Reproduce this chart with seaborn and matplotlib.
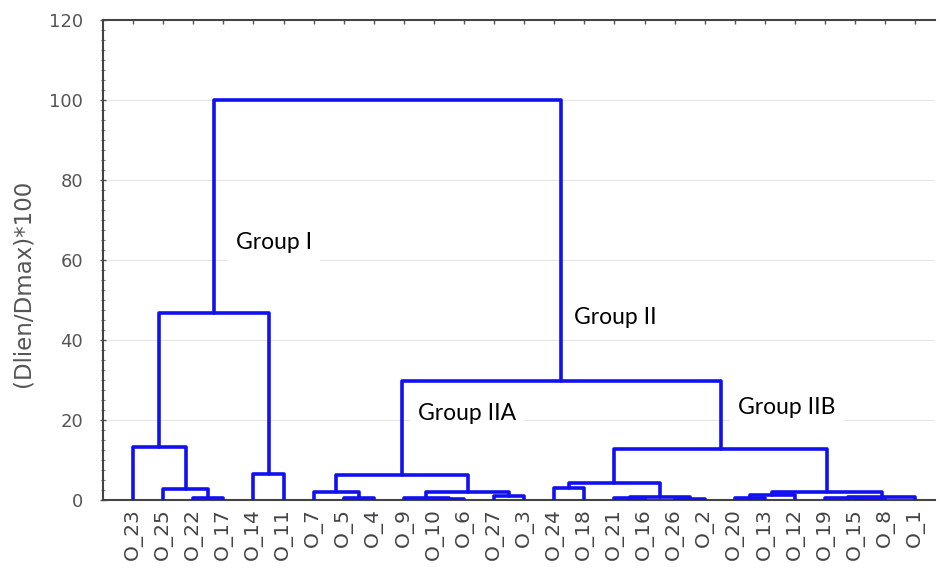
import numpy as np
import pandas as pd
import matplotlib
matplotlib.use("Agg")
import matplotlib.pyplot as plt
import seaborn as sns

# Leaf order along the x axis
leaf_labels = ["O_23", "O_25", "O_22", "O_17", "O_14", "O_11", "O_7", "O_5", "O_4",
               "O_9", "O_10", "O_6", "O_27", "O_3", "O_24", "O_18", "O_21", "O_16",
               "O_26", "O_2", "O_20", "O_13", "O_12", "O_19", "O_15", "O_8", "O_1"]

# Agglomeration steps: "#k" refers to the cluster formed at step k
link_left = ["O_22", "O_25", "O_23", "O_14", "#2", "O_5", "O_7", "O_10", "O_9", "O_27",
             "#8", "#6", "O_24", "O_21", "O_26", "#13", "#12", "O_20", "#17", "O_15",
             "O_19", "#20", "#18", "#16", "#11", "#4"]
link_right = ["O_17", "#0", "#1", "O_11", "#3", "O_4", "#5", "O_6", "#7", "O_3",
              "#9", "#10", "O_18", "O_16", "O_2", "#14", "#15", "O_13", "O_12", "O_8",
              "#19", "O_1", "#21", "#22", "#23", "#24"]
link_height = [0.6, 2.7, 13.3, 6.5, 46.8, 0.6, 2.1, 0.3, 0.6, 1.1,
               2.1, 6.2, 2.9, 0.5, 0.3, 0.8, 4.3, 0.4, 1.2, 0.2,
               0.5, 0.8, 1.9, 12.7, 29.8, 100.0]

# Group annotations
group_names = ["Group I", "Group II", "Group IIA", "Group IIB"]
group_x = [4.42, 15.67, 10.47, 21.12]
group_y = [64.3, 45.5, 21.5, 23.0]

# Build the dendrogram segments
leaf_pos = {name: i + 1 for i, name in enumerate(leaf_labels)}
node_pos, node_h = {}, {}


def locate(key):
    if key.startswith("#"):
        k = int(key[1:])
        return node_pos[k], node_h[k]
    return float(leaf_pos[key]), 0.0


rows = []
for k, (a, b, h) in enumerate(zip(link_left, link_right, link_height)):
    xa, ha = locate(a)
    xb, hb = locate(b)
    node_pos[k] = (xa + xb) / 2
    node_h[k] = h
    for order, (xx, yy) in enumerate([(xa, ha), (xa, h), (xb, h), (xb, hb)]):
        rows.append({"link": k, "order": order, "x": xx, "y": yy})
segments = pd.DataFrame(rows)

sns.set_theme(style="white")
plt.rcParams["font.family"] = ["DejaVu Sans"]

fig = plt.figure(figsize=(9.4, 5.72), dpi=100)
ax = fig.add_axes([0.1096, 0.126, 0.885, 0.839])

for yg in [20, 40, 60, 80, 100]:
    ax.axhline(yg, color="#e6e6e6", lw=0.8, zorder=0)

sns.lineplot(data=segments, x="x", y="y", units="link", estimator=None, sort=False,
             color="#1010f0", lw=2.6, ax=ax, legend=False, zorder=3)

ax.set_xlim(0, 27.65)
ax.set_ylim(0, 120)
ax.set_yticks(np.arange(0, 121, 20))
ax.set_yticks(np.arange(0, 121, 2.5), minor=True)
ax.set_xticks(np.arange(1, len(leaf_labels) + 1))
ax.set_xticklabels(leaf_labels, rotation=90, fontsize=14.5, color="#444444")
ax.tick_params(axis="y", which="major", labelsize=13, labelcolor="#555555",
               direction="inout", length=5, width=1, color="#555555", left=True, pad=12)
ax.tick_params(axis="y", which="minor", direction="inout", length=3, width=0.8,
               color="#777777", left=True)
ax.tick_params(axis="x", which="major", direction="in", length=3, width=1,
               color="#555555", bottom=False, top=True, labelbottom=True, pad=6)

ax.set_xlabel("")
ax.set_ylabel("(Dlien/Dmax)*100", fontsize=16.5, color="#555555")
ax.yaxis.set_label_coords(-0.082, 0.452)

for side in ["left", "top", "bottom"]:
    ax.spines[side].set_visible(True)
    ax.spines[side].set_color("#444444")
    ax.spines[side].set_linewidth(1.5)
ax.spines["right"].set_visible(False)

for name, gx, gy in zip(group_names, group_x, group_y):
    ax.text(gx, gy, name, fontsize=16.5, family="Lato", color="black", va="center", ha="left",
            zorder=4, bbox=dict(facecolor="white", edgecolor="none", pad=6))

fig.savefig("out.png", dpi=100)
